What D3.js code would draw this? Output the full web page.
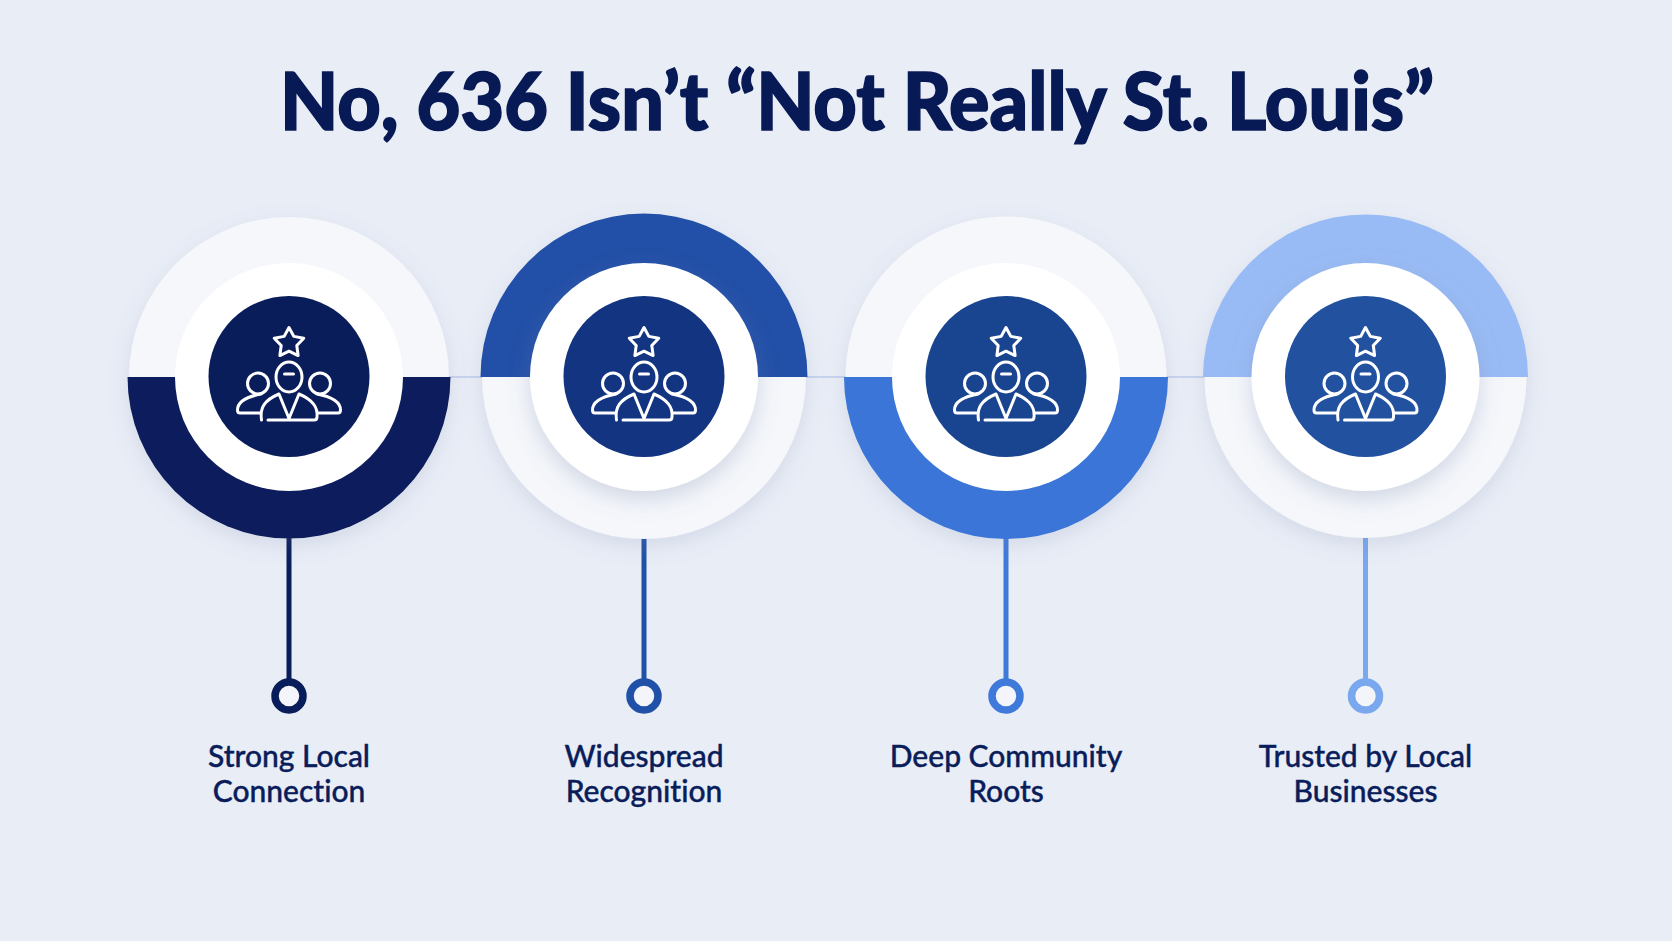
<!DOCTYPE html>
<html>
<head>
<meta charset="utf-8">
<title>No, 636 Isn't "Not Really St. Louis"</title>
<script src="https://cdn.jsdelivr.net/npm/d3@7"></script>
<style>
    html, body { margin: 0; padding: 0; background: #e9edf6; overflow: hidden; }
    svg { display: block; }
    text { font-family: Lato, "Noto Sans", sans-serif; fill: #0a1d5b; font-variant-ligatures: none; }
</style>
</head>
<body>
<div id="chart"></div>
<script>
const titleText = "No, 636 Isn\u2019t \u201CNot Really St. Louis\u201D";
const categories = ["Strong Local Connection", "Widespread Recognition", "Deep Community Roots", "Trusted by Local Businesses"];
const labelLines = [["Strong Local", "Connection"], ["Widespread", "Recognition"], ["Deep Community", "Roots"], ["Trusted by Local", "Businesses"]];
const halfShares = [50, 50];
const filledHalf = [1, 0, 1, 0]; // 0 = top half, 1 = bottom half
const ringColors = ["#0a1d5b", "#2050a7", "#3a75d8", "#99bbf5"];
const discColors = ["#0a1d5b", "#123481", "#184490", "#22529f"];
const stemColors = ["#0a1d5b", "#2050a7", "#3f7ada", "#7aa8ef"];

const width = 1672;
const height = 941;
const columnCentres = [289, 644, 1006, 1365.5];
const ringRadii = [161.5, 163.5, 162, 162.5];
const centreY = 377;
const stemEnd = 696;

let x = d3.scaleOrdinal().domain(categories).range(columnCentres);
let ringRadius = d3.scaleOrdinal().domain(categories).range(ringRadii);

let svg = d3.select("#chart")
    .append("svg")
    .attr("width", width)
    .attr("height", height);

let defs = svg.append("defs");

function addShadow(id, dy, blur, opacity) {
    defs.append("filter")
        .attr("id", id)
        .attr("x", "-30%").attr("y", "-30%")
        .attr("width", "160%").attr("height", "160%")
        .append("feDropShadow")
        .attr("dx", 0)
        .attr("dy", dy)
        .attr("stdDeviation", blur)
        .attr("flood-color", "#6f7fa6")
        .attr("flood-opacity", opacity);
}
addShadow("ring-shadow", 7, 10, 0.18);
addShadow("disc-shadow", 8, 11, 0.28);

svg.append("rect")
    .attr("width", width)
    .attr("height", height)
    .attr("fill", "#e9edf6");

svg.append("text")
    .attr("x", 857)
    .attr("y", 130)
    .attr("text-anchor", "middle")
    .style("font-size", "80px")
    .style("font-weight", 900)
    .style("fill", "#081a55")
    .style("stroke", "#081a55")
    .style("stroke-width", "1.6px")
    .attr("textLength", 1154)
    .attr("lengthAdjust", "spacingAndGlyphs")
    .text(titleText);

// thin links between the rings
svg.selectAll(".link")
    .data(d3.pairs(categories))
    .enter().append("line")
    .attr("class", "link")
    .attr("x1", d => x(d[0]))
    .attr("x2", d => x(d[1]))
    .attr("y1", centreY)
    .attr("y2", centreY)
    .attr("stroke", "#bccaea")
    .attr("stroke-width", 1.5);

let pie = d3.pie().sort(null).startAngle(-Math.PI / 2).endAngle(Math.PI * 1.5);

let column = svg.selectAll(".column")
    .data(categories)
    .enter().append("g")
    .attr("class", "column")
    .attr("transform", d => "translate(" + x(d) + "," + centreY + ")");

// stem and end node
column.append("line")
    .attr("y1", 160)
    .attr("y2", stemEnd - centreY - 14)
    .attr("stroke", (d, i) => stemColors[i])
    .attr("stroke-width", 5);

column.append("circle")
    .attr("cy", stemEnd - centreY)
    .attr("r", 14)
    .attr("fill", "#f3f5fb")
    .attr("stroke", (d, i) => stemColors[i])
    .attr("stroke-width", 7.5);

// half rings
column.append("g")
    .attr("filter", "url(#ring-shadow)")
    .each(function(d, i) {
        d3.select(this).selectAll("path")
            .data(pie(halfShares))
            .enter().append("path")
            .attr("d", (s, k) => d3.arc().innerRadius(0).outerRadius(ringRadius(d) - (k === filledHalf[i] ? 0 : 1.5))(s))
            .attr("fill", (s, k) => k === filledHalf[i] ? ringColors[i] : "#f5f7fb");
    });

// the soft shadow only shows where the lower half of the ring is pale
column.append("circle")
    .attr("r", 114)
    .attr("fill", "#ffffff")
    .attr("filter", (d, i) => filledHalf[i] === 0 ? "url(#disc-shadow)" : null);

column.append("circle")
    .attr("r", 80.5)
    .attr("cy", -0.5)
    .attr("fill", (d, i) => discColors[i]);

// people + star icon
let icon = column.append("g")
    .attr("fill", "none")
    .attr("stroke", "#ffffff")
    .attr("stroke-width", 3)
    .attr("stroke-linecap", "round")
    .attr("stroke-linejoin", "round");

let starLine = d3.lineRadial().curve(d3.curveLinearClosed);
let starPoints = d3.range(10).map(k => [k * Math.PI / 5, k % 2 ? 8.2 : 15.5]);
icon.append("path")
    .attr("transform", "translate(0,-34)")
    .attr("d", starLine(starPoints));

icon.append("ellipse").attr("cy", 0).attr("rx", 13).attr("ry", 15);
icon.append("circle").attr("cx", -31).attr("cy", 6.5).attr("r", 10.5);
icon.append("circle").attr("cx", 31).attr("cy", 6.5).attr("r", 10.5);
icon.append("path").attr("d", "M-4.5,-3H4.5");
icon.append("path").attr("d", "M-29,36H-49Q-51.5,36 -51.5,33C-51.5,25 -44,20 -28,17");
icon.append("path").attr("d", "M29,36H49Q51.5,36 51.5,33C51.5,25 44,20 28,17");
icon.append("path").attr("d", "M-27.5,43C-29.5,30 -24,23 -10,17L0,41.5L10,17C24,23 29,30 28,40Q28,43 25,43H-21");

// two line labels
let label = column.append("text")
    .attr("text-anchor", "middle")
    .style("font-size", "30px")
    .style("font-weight", 500)
    .style("stroke", "#0a1d5b")
    .style("stroke-width", "0.4px");

label.selectAll("tspan")
    .data((d, i) => labelLines[i])
    .enter().append("tspan")
    .attr("x", 0)
    .attr("y", (d, k) => 767 - centreY + k * 35)
    .text(d => d);
</script>
</body>
</html>
